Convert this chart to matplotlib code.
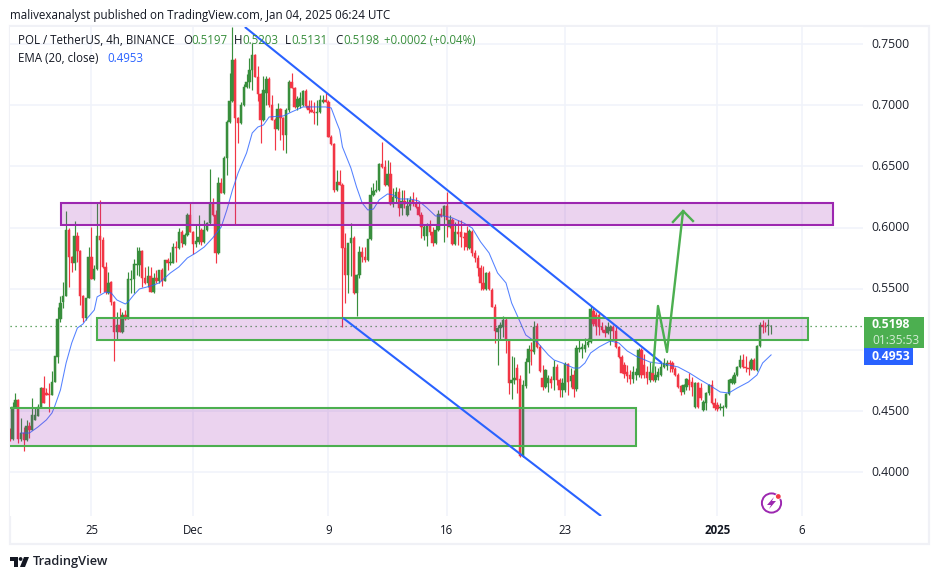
import matplotlib
matplotlib.use("Agg")
import matplotlib.pyplot as plt
import numpy as np
from matplotlib.patches import Rectangle, Circle, Polygon

W, H = 939, 579

# 4h candles, index 0 = Nov 20 04:00 UTC (ten per row)
opens = [
    .4322, .4273, .4535, .4592, .4273, .4322, .4265, .4380, .4347, .4429,
    .4461, .4535, .4690, .4649, .4641, .4633, .4739, .4943, .5254, .5393,
    .5442, .5981, .5760, .5711, .5932, .5809, .5442, .5262, .5425, .5760,
    .5581, .5662, .5932, .5899, .5679, .5466, .5556, .5393, .5148, .5205,
    .5148, .5286, .5254, .5572, .5581, .5695, .5695, .5809, .5589, .5548,
    .5605, .5474, .5589, .5564, .5654, .5564, .5736, .5711, .5711, .5842,
    .5834, .5965, .5867, .5940, .6103, .5965, .5867, .5883, .5981, .5883,
    .5981, .6038, .6201, .6103, .5793, .6365, .6283, .6569, .6863, .7035,
    .7370, .6896, .6855, .7002, .7149, .7190, .7288, .7411, .7231, .7092,
    .6880, .7100, .7215, .7002, .6880, .6806, .6969, .6896, .6757, .6961,
    .7190, .7141, .6986, .6994, .7002, .7117, .6994, .6961, .6945, .6937,
    .6945, .7027, .7043, .7027, .6741, .6684, .6308, .6373, .6349, .5834,
    .5613, .5875, .5916, .5466, .5613, .5801, .5760, .5736, .5907, .6267,
    .6300, .6308, .6520, .6496, .6349, .6438, .6193, .6242, .6291, .6161,
    .6218, .6103, .6177, .6226, .6201, .6169, .6103, .5932, .5932, .6022,
    .5965, .5875, .5981, .6112, .6095, .6177, .6005, .6063, .5867, .5965,
    .5965, .5924, .5956, .5834, .5965, .5793, .5752, .5670, .5548, .5499,
    .5630, .5491, .5352, .5148, .5180, .5188, .5246, .5082, .4731, .4755,
    .4853, .4764, .4134, .4706, .4902, .5001, .4984, .5197, .5025, .4772,
    .4698, .4731, .4764, .4755, .4862, .4755, .4674, .4674, .4886, .4747,
    .4796, .4682, .5009, .5009, .5009, .5041, .5066, .5319, .5286, .5286,
    .5188, .5164, .5139, .5156, .5188, .5156, .5025, .4943, .4878, .4821,
    .4796, .4764, .4796, .4796, .5001, .4878, .4821, .4755, .4813, .4755,
    .4780, .4796, .4862, .4870, .4894, .4894, .4845, .4796, .4706, .4657,
    .4698, .4755, .4739, .4535, .4731, .4690, .4510, .4568, .4649, .4715,
    .4568, .4551, .4527, .4527, .4535, .4641, .4731, .4731, .4796, .4862,
    .4919, .4862, .4853, .4845, .4919, .4837, .5033, .5205, .5188, .5197,
    .5197,
]
highs = [
    .4363, .4576, .4649, .4600, .4445, .4371, .4429, .4412, .4608, .4535,
    .4559, .4698, .4788, .4690, .4731, .4829, .4951, .5352, .5442, .5556,
    .6136, .5997, .5768, .6054, .5965, .5818, .5450, .5425, .5842, .6005,
    .5695, .6201, .6226, .5924, .5719, .5638, .5564, .5401, .5311, .5344,
    .5311, .5327, .5638, .5654, .5744, .5842, .5842, .5818, .5679, .5687,
    .5679, .5630, .5654, .5638, .5670, .5736, .5752, .5801, .5875, .5891,
    .5997, .5981, .5956, .6120, .6201, .5973, .6030, .6103, .5997, .6063,
    .6046, .6479, .6242, .6144, .6414, .6406, .6585, .6880, .7264, .7639,
    .7386, .6904, .7027, .7174, .7255, .7386, .7509, .7419, .7321, .7100,
    .7239, .7239, .7231, .7084, .6896, .7018, .6978, .6904, .6978, .7206,
    .7264, .7149, .7076, .7108, .7125, .7133, .7043, .7043, .7027, .7043,
    .7084, .7084, .7100, .7043, .6757, .6692, .6471, .6471, .6365, .5956,
    .5875, .6038, .5932, .5621, .5850, .5842, .5842, .5907, .6332, .6365,
    .6389, .6528, .6700, .6553, .6553, .6536, .6324, .6332, .6324, .6308,
    .6308, .6242, .6259, .6291, .6250, .6210, .6128, .6022, .6038, .6063,
    .6005, .6022, .6144, .6161, .6185, .6291, .6103, .6079, .6046, .6063,
    .6063, .5965, .6014, .5989, .5981, .5818, .5777, .5695, .5687, .5638,
    .5646, .5507, .5376, .5205, .5229, .5278, .5262, .5090, .4951, .4943,
    .4886, .4796, .4755, .4935, .5041, .5066, .5238, .5221, .5041, .4878,
    .4845, .4796, .4788, .4919, .4886, .4772, .4772, .4902, .4894, .4853,
    .4837, .5041, .5082, .5058, .5098, .5098, .5360, .5344, .5311, .5303,
    .5229, .5205, .5229, .5205, .5205, .5205, .5033, .4960, .4902, .4878,
    .4837, .4870, .4853, .5017, .5017, .4968, .4870, .4902, .4870, .4870,
    .4853, .4902, .4935, .4919, .4919, .4911, .4862, .4813, .4715, .4723,
    .4772, .4813, .4780, .4739, .4739, .4731, .4592, .4657, .4723, .4755,
    .4608, .4576, .4568, .4551, .4649, .4764, .4788, .4821, .4870, .4960,
    .4968, .4951, .4911, .4935, .4935, .5041, .5229, .5246, .5229, .5254,
    .5203,
]
lows = [
    .4257, .4265, .4527, .4241, .4257, .4175, .4257, .4282, .4347, .4429,
    .4461, .4527, .4568, .4633, .4494, .4633, .4739, .4894, .5229, .5344,
    .5442, .5515, .5638, .5654, .5719, .5368, .5229, .5246, .5425, .5581,
    .5572, .5654, .5466, .5670, .5458, .5458, .5368, .4911, .5082, .5148,
    .5139, .5246, .5254, .5466, .5466, .5613, .5605, .5515, .5540, .5515,
    .5474, .5466, .5548, .5548, .5523, .5564, .5654, .5695, .5711, .5719,
    .5826, .5842, .5858, .5932, .5965, .5785, .5842, .5867, .5858, .5875,
    .5973, .6030, .6095, .5711, .5785, .6283, .6275, .6430, .6855, .7027,
    .6030, .6692, .6847, .6994, .7141, .7141, .7125, .7231, .7035, .6692,
    .6871, .7002, .6986, .6880, .6635, .6798, .6716, .6635, .6610, .6945,
    .7141, .6978, .6961, .6978, .6994, .6978, .6937, .6945, .6847, .6839,
    .6937, .7018, .7027, .6741, .6675, .6291, .6300, .6349, .5188, .5384,
    .5466, .5605, .5458, .5278, .5589, .5719, .5719, .5728, .5899, .6259,
    .6291, .6300, .6487, .6340, .6340, .6185, .6169, .6210, .6095, .6103,
    .6161, .6095, .6144, .6177, .6161, .6095, .5916, .5899, .5850, .5940,
    .5850, .5867, .5973, .6087, .5883, .5924, .5997, .5858, .5858, .5858,
    .5842, .5818, .5818, .5826, .5768, .5719, .5605, .5491, .5491, .5491,
    .5491, .5352, .5058, .4878, .5082, .5107, .4976, .4641, .4600, .4723,
    .4649, .4126, .4126, .4690, .4813, .4878, .4968, .5017, .4821, .4674,
    .4690, .4657, .4690, .4674, .4715, .4617, .4617, .4657, .4633, .4698,
    .4617, .4666, .4984, .4935, .4984, .5025, .5058, .5197, .5123, .5123,
    .5148, .5107, .5131, .5041, .5082, .5017, .4935, .4813, .4772, .4739,
    .4723, .4731, .4755, .4780, .4772, .4772, .4723, .4739, .4747, .4739,
    .4755, .4788, .4853, .4837, .4821, .4821, .4788, .4690, .4633, .4641,
    .4674, .4674, .4625, .4527, .4527, .4592, .4502, .4510, .4633, .4559,
    .4510, .4502, .4510, .4461, .4527, .4633, .4723, .4723, .4788, .4853,
    .4853, .4821, .4796, .4837, .4837, .4829, .5025, .5139, .5148, .5123,
    .5131,
]
closes = [
    .4273, .4535, .4592, .4273, .4322, .4265, .4380, .4347, .4469, .4469,
    .4535, .4690, .4568, .4633, .4633, .4739, .4951, .5254, .5384, .5442,
    .5981, .5760, .5711, .5932, .5809, .5442, .5262, .5425, .5760, .5581,
    .5662, .5932, .5899, .5679, .5474, .5548, .5393, .5148, .5205, .5148,
    .5286, .5254, .5581, .5581, .5703, .5703, .5809, .5589, .5548, .5605,
    .5474, .5589, .5564, .5654, .5564, .5736, .5711, .5719, .5842, .5834,
    .5965, .5875, .5940, .6103, .5965, .5867, .5891, .5924, .5883, .5981,
    .6038, .6201, .6103, .5793, .6365, .6283, .6569, .6863, .7035, .7370,
    .6896, .6855, .7002, .7149, .7190, .7288, .7411, .7231, .7092, .6880,
    .7125, .7215, .7002, .6880, .6806, .6969, .6896, .6757, .6961, .7190,
    .7141, .6986, .7051, .7059, .7117, .6994, .6961, .6945, .6937, .6945,
    .7043, .7043, .7027, .6741, .6684, .6308, .6373, .6349, .5834, .5613,
    .5875, .5916, .5466, .5613, .5801, .5760, .5736, .5907, .6267, .6300,
    .6308, .6520, .6496, .6349, .6438, .6193, .6250, .6291, .6161, .6218,
    .6193, .6177, .6226, .6201, .6169, .6103, .6005, .6005, .6022, .5965,
    .5875, .5981, .6112, .6095, .6177, .6063, .6063, .5867, .5965, .5948,
    .5924, .5916, .5842, .5973, .5793, .5752, .5670, .5548, .5499, .5630,
    .5499, .5352, .5156, .5180, .5205, .5246, .5082, .4731, .4755, .4772,
    .4755, .4134, .4715, .4902, .5009, .4992, .5188, .5025, .4829, .4698,
    .4837, .4772, .4731, .4862, .4755, .4674, .4731, .4886, .4739, .4788,
    .4682, .5017, .5017, .5025, .5041, .5066, .5335, .5213, .5197, .5188,
    .5164, .5139, .5188, .5188, .5156, .5025, .4943, .4813, .4804, .4788,
    .4764, .4821, .4821, .5001, .4796, .4796, .4772, .4821, .4755, .4796,
    .4821, .4862, .4894, .4894, .4886, .4845, .4796, .4698, .4657, .4715,
    .4764, .4715, .4698, .4731, .4535, .4608, .4576, .4649, .4715, .4568,
    .4527, .4518, .4535, .4535, .4641, .4755, .4764, .4796, .4862, .4919,
    .4862, .4853, .4845, .4919, .4837, .5033, .5205, .5188, .5187, .5205,
    .5198,
]

# EMA (20, close) read at these candle indexes
ema_idx = [4, 7, 10, 13, 15, 16, 18, 20, 22, 24, 26, 27, 30, 31, 34, 36, 38, 41, 42, 44,
           46, 50, 53, 57, 60, 63, 66, 69, 72, 75, 77, 79, 81, 84, 86, 88, 90, 92, 97, 100,
           104, 108, 112, 114, 116, 117, 118, 121, 123, 125, 127, 129, 131, 134, 136, 138,
           142, 145, 148, 151, 154, 157, 161, 164, 167, 170, 173, 176, 178, 181, 183, 185,
           187, 191, 193, 196, 200, 202, 204, 206, 209, 213, 216, 219, 222, 227, 232, 237,
           241, 245, 248, 252, 255, 258, 262, 265, 267, 270]
ema_val = [.4322, .4322, .4371, .4429, .4486, .4543, .4674, .4894, .5058, .5180, .5213, .5246,
           .5327, .5434, .5474, .5466, .5409, .5376, .5393, .5450, .5499, .5523, .5548, .5630,
           .5679, .5752, .5793, .5842, .5916, .6005, .6144, .6308, .6447, .6610, .6773, .6822,
           .6839, .6904, .6912, .6945, .6986, .6986, .6986, .6978, .6855, .6798, .6659, .6487,
           .6332, .6201, .6144, .6152, .6226, .6275, .6267, .6234, .6234, .6218, .6161, .6095,
           .6095, .6079, .6038, .5997, .5883, .5793, .5630, .5548, .5384, .5229, .5123, .5090,
           .5066, .4960, .4919, .4894, .4853, .4853, .4894, .4976, .5025, .5074, .5058, .4992,
           .4951, .4902, .4886, .4862, .4813, .4755, .4715, .4657, .4649, .4690, .4739, .4796,
           .4894, .4960]

# axis labels
tick_idx = [29, 65, 113, 155, 197, 251, 281]
tick_txt = ["25", "Dec", "9", "16", "23", "2025", "6"]
price_ticks = [.40, .45, .50, .55, .60, .65, .70, .75]
price_labels = ["0.4000", "0.4500", "", "0.5500", "0.6000", "0.6500", "0.7000", "0.7500"]

# drawn zones and lines: (start idx, end idx, top, bottom)
purple_zone = (18.2, 292, .6201, .6022)
mid_zone = (31, 283.1, .5262, .5082)
low_zone = (-5, 222.1, .4527, .4216)
upper_x, upper_y = [83.4, 231.3], [.7639, .4894]
lower_x, lower_y = [118.2, 209.7], [.5262, .3644]
arrow_x, arrow_y = [228.1, 229.9, 233.1, 238.8], [.4821, .5360, .4984, .6136]
head_x, head_y = [235.2, 238.8, 242.3], [.6046, .6136, .6054]
last_price = .5198

UP, DOWN = "#388e3c", "#f23645"
GREEN, PURPLE, BLUE = "#4caf50", "#9c27b0", "#2962ff"
INK = "#131722"
GRID = "#f0f3fa"

plt.rcParams["font.family"] = ["Open Sans", "DejaVu Sans"]

fig = plt.figure(figsize=(W / 100, H / 100), dpi=100)
ax = fig.add_axes([10 / W, (H - 516) / H, 853 / W, 489 / H])
ax.set_xlim(0.106, 302.6)
ax.set_ylim(.3644, .7639)


def fx(x):
    return x / W


def fy(y):
    return 1 - y / H


def label(x, y, s, **kw):
    kw.setdefault("color", INK)
    kw.setdefault("fontsize", 8.3)
    fig.text(fx(x), fy(y), s, va="center", **kw)


def box(x0, y0, x1, y1, **kw):
    fig.add_artist(Rectangle((fx(x0), fy(y1)), (x1 - x0) / W, (y1 - y0) / H,
                             transform=fig.transFigure, **kw))


for s in ax.spines.values():
    s.set_visible(False)
ax.set_yticks(price_ticks)
ax.set_yticklabels([])
ax.set_xticks(tick_idx)
ax.set_xticklabels([])
ax.tick_params(length=0)
ax.grid(True, color=GRID, lw=1.1)
ax.set_axisbelow(True)

# candles
o, hi, lo, c = map(np.array, (opens, highs, lows, closes))
idx = np.arange(len(c))
cols = [UP if cc >= oo else DOWN for oo, cc in zip(o, c)]
ax.vlines(idx, lo, hi, colors=cols, lw=0.85, zorder=3)
ax.bar(idx, np.abs(c - o), bottom=np.minimum(o, c), width=0.85, color=cols,
       edgecolor=cols, lw=0.35, zorder=3)

ax.plot(ema_idx, ema_val, color=BLUE, lw=0.75, alpha=0.8, zorder=4)
ax.axhline(last_price, color=UP, lw=0.9, ls=(0, (1, 3)), zorder=5)

# zones
for zone, col in ((purple_zone, PURPLE), (mid_zone, GREEN), (low_zone, GREEN)):
    x0, x1, top, bot = zone
    ax.add_patch(Rectangle((x0, bot), x1 - x0, top - bot, facecolor=PURPLE, alpha=0.2, lw=0, zorder=5))
    ax.add_patch(Rectangle((x0, bot), x1 - x0, top - bot, fill=False, edgecolor=col, lw=1.5, zorder=6))

ax.plot(upper_x, upper_y, color=BLUE, lw=1.5, zorder=7, solid_capstyle="butt")
ax.plot(lower_x, lower_y, color=BLUE, lw=1.5, zorder=7, solid_capstyle="butt")
ax.plot(arrow_x, arrow_y, color=GREEN, lw=1.7, zorder=7)
ax.plot(head_x, head_y, color=GREEN, lw=1.7, zorder=7)

# frame
box(10, 26, 929, 544, fill=False, edgecolor="#f0f1f6", lw=1.6, zorder=-1)

# header and legend
label(10, 15, "malivexanalyst published on TradingView.com, Jan 04, 2025 06:24 UTC", fontsize=8.4)
label(18, 41, "POL / TetherUS, 4h, BINANCE")
for x, s, col in ((183, "O", INK), (191, "0.5197", UP), (234, "H", INK), (242, "0.5203", UP),
                  (285, "L", INK), (291, "0.5131", UP), (335, "C", INK), (343, "0.5198", UP),
                  (384, "+0.0002 (+0.04%)", UP)):
    label(x, 41, s, color=col)
label(18, 58, "EMA (20, close)")
label(107, 58, "0.4953", color=BLUE)

# price axis
for p, s in zip(price_ticks, price_labels):
    if s:
        y = (.786 - p) / .000817
        label(871, y, s, fontsize=8.8, color="#1e222d")

box(864, 317, 924, 348, facecolor=GREEN, lw=0)
label(872, 325, "0.5198", color="white", fontsize=8.8, fontweight="bold")
label(872, 340, "01:35:53", color="#d5edd6", fontsize=8.6)
box(864, 348, 913, 365, facecolor=BLUE, lw=0)
label(872, 356, "0.4953", color="white", fontsize=8.8, fontweight="bold")

# time axis
for i, s in zip(tick_idx, tick_txt):
    x = 9.7 + 2.82 * i
    fig.text(fx(x), fy(530), s, ha="center", va="center", fontsize=8.3, color=INK,
             fontweight="bold" if s == "2025" else "normal")

# flash icon
icon = fig.add_axes([758 / W, fy(516), 26 / W, 26 / H])
icon.set_xlim(758, 784)
icon.set_ylim(516, 490)
icon.axis("off")
icon.set_aspect("equal")
icon.add_patch(Circle((771.5, 503), 9.6, fill=False, edgecolor=PURPLE, lw=1.4))
icon.add_patch(Polygon([(774, 497), (767, 505), (771, 505), (769, 509), (776, 501), (772, 501)],
                       facecolor=PURPLE, lw=0))
icon.add_patch(Circle((778.3, 496.5), 3.2, facecolor="white", lw=0))
icon.add_patch(Circle((778.3, 496.5), 2.4, facecolor=DOWN, lw=0))

# TradingView logo
logo = fig.add_axes([9 / W, fy(569), 22 / W, 14 / H])
logo.set_xlim(9, 31)
logo.set_ylim(569, 555)
logo.axis("off")
logo.add_patch(Polygon([(10, 557), (18, 557), (18, 567), (14, 567), (14, 561), (10, 561)], facecolor=INK, lw=0))
logo.add_patch(Circle((20.6, 559), 1.9, facecolor=INK, lw=0))
logo.add_patch(Polygon([(24, 557), (29, 557), (25, 567), (20, 567)], facecolor=INK, lw=0))
label(33, 561.5, "TradingView", fontsize=9.3, fontweight="semibold", color="#1e222d")

fig.savefig("out.png", dpi=100)
